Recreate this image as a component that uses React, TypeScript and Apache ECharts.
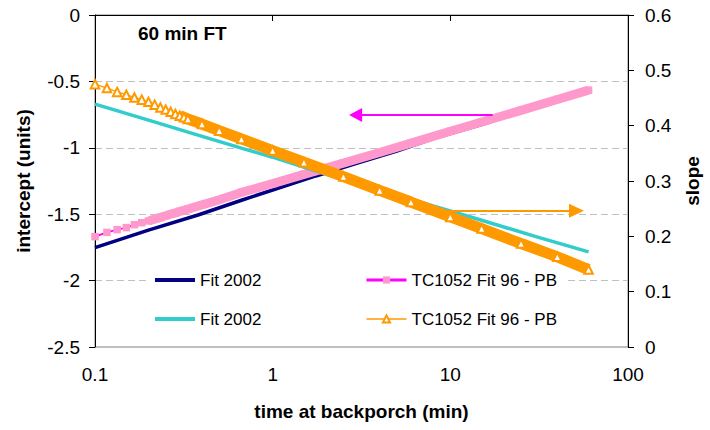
import React, { useEffect, useRef } from "react";
import * as echarts from "echarts";

// ---- data (time in minutes) ----
const fitTimes = [0.1, 0.2, 0.38, 0.674, 1, 1.75, 3, 5, 8, 15, 30, 60];
const fitIntercept = [-1.752, -1.62, -1.506, -1.393, -1.318, -1.212, -1.115, -1.025, -0.93, -0.825, -0.695, -0.572];
const fitSlope = [0.439, 0.41, 0.383, 0.359, 0.343, 0.318, 0.296, 0.275, 0.255, 0.229, 0.2, 0.172];

const tcTimes = [0.1, 0.1167, 0.1333, 0.15, 0.1667, 0.1833, 0.2, 0.2167, 0.2333, 0.25, 0.2667, 0.2833, 0.3, 0.3167, 0.3333, 0.4, 0.5, 0.6667, 1, 1.5, 2.5, 4, 6, 10, 15, 25, 40, 60];
const tcIntercept = [-1.669, -1.637, -1.616, -1.601, -1.579, -1.564, -1.551, -1.537, -1.524, -1.512, -1.5, -1.49, -1.479, -1.471, -1.462, -1.43, -1.392, -1.336, -1.27, -1.2, -1.115, -1.035, -0.965, -0.875, -0.806, -0.718, -0.636, -0.566];
const tcSlope = [0.475, 0.468, 0.461, 0.456, 0.451, 0.447, 0.443, 0.438, 0.433, 0.429, 0.425, 0.421, 0.418, 0.415, 0.412, 0.403, 0.391, 0.376, 0.355, 0.334, 0.308, 0.283, 0.262, 0.235, 0.214, 0.187, 0.163, 0.14];

const interceptArrowX = [17.3, 2.93];
const interceptArrowY = -0.753;
const slopeArrowX = [9, 51.3];
const slopeArrowY = 0.2463;

const xTicks = ["0.1", "1", "10", "100"];

const FONT = "'Liberation Sans', Arial, sans-serif";
const NAVY = "#000080";
const MAGENTA = "#FF00FF";
const PINK = "#FF99CC";
const CYAN = "#33CCCC";
const ORANGE = "#FF9900";

const pair = (xs: number[], ys: number[]) => xs.map((x, i) => [x, ys[i]]);
const pairFrom = (xs: number[], ys: number[], minX: number) =>
  xs.map((x, i) => [x, ys[i]]).filter((p) => p[0] >= minX);

const NAMES = {
  fitI: "Fit 2002 (intercept)",
  fitS: "Fit 2002 (slope)",
  tcI: "TC1052 Fit 96 - PB (intercept)",
  tcS: "TC1052 Fit 96 - PB (slope)",
};

export default function App() {
  const ref = useRef<HTMLDivElement>(null);
  useEffect(() => {
    const chart = echarts.init(ref.current!, null, { renderer: "svg" });
    const option: any = {
      animation: false,
      backgroundColor: "#fff",
      textStyle: { fontFamily: FONT },
      title: {
        text: "60 min FT",
        left: 138,
        top: 24,
        padding: 0,
        textStyle: { fontFamily: FONT, fontSize: 19, fontWeight: "bold", color: "#000" },
      },
      grid: {
        left: 95,
        right: 72,
        top: 15,
        bottom: 83,
        show: true,
        borderColor: "#808080",
        borderWidth: 1,
        backgroundColor: "transparent",
      },
      graphic: [
        {
          type: "rect",
          z: 1,
          shape: { x: 150, y: 262, width: 418, height: 76 },
          style: { fill: "#fff" },
          silent: true,
        },
      ],
      legend: [
        {
          orient: "vertical",
          left: 155,
          top: 271.5,
          padding: 0,
          itemGap: 22,
          itemWidth: 40,
          itemHeight: 4,
          data: [
            { name: NAMES.fitI, icon: "rect" },
            { name: NAMES.fitS, icon: "rect" },
          ],
          formatter: () => "Fit 2002",
          textStyle: { fontFamily: FONT, fontSize: 17, color: "#000" },
          selectedMode: false,
        },
        {
          orient: "vertical",
          left: 365,
          top: 271.5,
          padding: 0,
          itemGap: 22,
          itemWidth: 40,
          itemHeight: 9,
          data: [
            { name: NAMES.tcI, lineStyle: { width: 3, color: MAGENTA } },
            { name: NAMES.tcS, lineStyle: { width: 1.5, color: ORANGE } },
          ],
          formatter: () => "TC1052 Fit 96 - PB",
          textStyle: { fontFamily: FONT, fontSize: 17, color: "#000" },
          selectedMode: false,
        },
      ],
      xAxis: {
        type: "log",
        logBase: 10,
        min: 0.1,
        max: 100,
        name: "time at backporch (min)",
        nameLocation: "middle",
        nameGap: 55,
        nameTextStyle: { fontFamily: FONT, fontSize: 19, fontWeight: "bold", color: "#000" },
        axisLine: { show: true, lineStyle: { color: "#000", width: 1 } },
        axisTick: { show: true, inside: false, length: 6, lineStyle: { color: "#000" } },
        minorTick: { show: false },
        splitLine: { show: false },
        axisLabel: {
          fontFamily: FONT,
          fontSize: 19,
          color: "#000",
          margin: 18,
          formatter: (v: number) => {
            const idx = Math.round(Math.log10(v)) + 1;
            return xTicks[idx] ?? String(v);
          },
        },
      },
      yAxis: [
        {
          type: "value",
          position: "left",
          min: -2.5,
          max: 0,
          interval: 0.5,
          name: "intercept (units)",
          nameLocation: "middle",
          nameRotate: 90,
          nameGap: 62,
          nameTextStyle: { fontFamily: FONT, fontSize: 19, fontWeight: "bold", color: "#000" },
          axisLine: { show: true, lineStyle: { color: "#000", width: 1 } },
          axisTick: { show: true, inside: false, length: 6, lineStyle: { color: "#000" } },
          axisLabel: { fontFamily: FONT, fontSize: 19, color: "#000", margin: 15 },
          splitLine: {
            show: true,
            showMaxLine: false,
            showMinLine: false,
            lineStyle: { color: "#c0c0c0", width: 1, type: [7, 4] },
          },
        },
        {
          type: "value",
          position: "right",
          min: 0,
          max: 0.6,
          interval: 0.1,
          name: "slope",
          nameLocation: "middle",
          nameRotate: 90,
          nameGap: 55,
          nameTextStyle: { fontFamily: FONT, fontSize: 19, fontWeight: "bold", color: "#000" },
          axisLine: { show: true, lineStyle: { color: "#000", width: 1 } },
          axisTick: { show: true, inside: false, length: 6, lineStyle: { color: "#000" } },
          axisLabel: { fontFamily: FONT, fontSize: 19, color: "#000", margin: 17 },
          splitLine: { show: false },
        },
      ],
      series: [
        {
          name: NAMES.fitI,
          type: "line",
          yAxisIndex: 0,
          data: pair(fitTimes, fitIntercept),
          showSymbol: false,
          symbol: "none",
          lineStyle: { color: NAVY, width: 3.5 },
          itemStyle: { color: NAVY },
          silent: true,
        },
        {
          name: NAMES.tcI,
          type: "line",
          yAxisIndex: 0,
          data: pair(tcTimes, tcIntercept),
          symbol: "rect",
          symbolSize: 7.5,
          showSymbol: true,
          lineStyle: { color: MAGENTA, width: 2 },
          itemStyle: { color: PINK, borderWidth: 0 },
          silent: true,
          markLine: {
            silent: true,
            symbol: ["none", "triangle"],
            symbolSize: [14, 13],
            label: { show: false },
            lineStyle: { color: MAGENTA, width: 2, type: "solid" },
            data: [
              [
                { coord: [interceptArrowX[0], interceptArrowY] },
                { coord: [interceptArrowX[1], interceptArrowY] },
              ],
            ],
          },
        },
        {
          name: "tcInterceptBand",
          type: "line",
          yAxisIndex: 0,
          data: pairFrom(tcTimes, tcIntercept, 0.2),
          showSymbol: false,
          symbol: "none",
          lineStyle: { color: PINK, width: 9, cap: "butt" },
          itemStyle: { color: PINK },
          silent: true,
        },
        {
          name: NAMES.fitS,
          type: "line",
          yAxisIndex: 1,
          data: pair(fitTimes, fitSlope),
          showSymbol: false,
          symbol: "none",
          lineStyle: { color: CYAN, width: 3.5 },
          itemStyle: { color: CYAN },
          silent: true,
        },
        {
          name: "tcSlopeBand",
          type: "line",
          yAxisIndex: 1,
          data: pairFrom(tcTimes, tcSlope, 0.3),
          showSymbol: false,
          symbol: "none",
          lineStyle: { color: ORANGE, width: 11, cap: "butt" },
          itemStyle: { color: ORANGE },
          silent: true,
        },
        {
          name: NAMES.tcS,
          type: "line",
          yAxisIndex: 1,
          data: pair(tcTimes, tcSlope),
          symbol: "emptyTriangle",
          symbolSize: 8.5,
          showSymbol: true,
          lineStyle: { color: ORANGE, width: 1.3 },
          itemStyle: { color: ORANGE, borderWidth: 1.3 },
          silent: true,
          markLine: {
            silent: true,
            symbol: ["none", "triangle"],
            symbolSize: [14, 15],
            label: { show: false },
            lineStyle: { color: ORANGE, width: 2, type: "solid" },
            data: [
              [
                { coord: [slopeArrowX[0], slopeArrowY] },
                { coord: [slopeArrowX[1], slopeArrowY] },
              ],
            ],
          },
        },
      ],
    };
    chart.setOption(option);
    return () => chart.dispose();
  }, []);
  return (
    <div
      ref={ref}
      style={{ position: "fixed", left: 0, top: 0, width: 710, height: 430, background: "#fff" }}
    />
  );
}
